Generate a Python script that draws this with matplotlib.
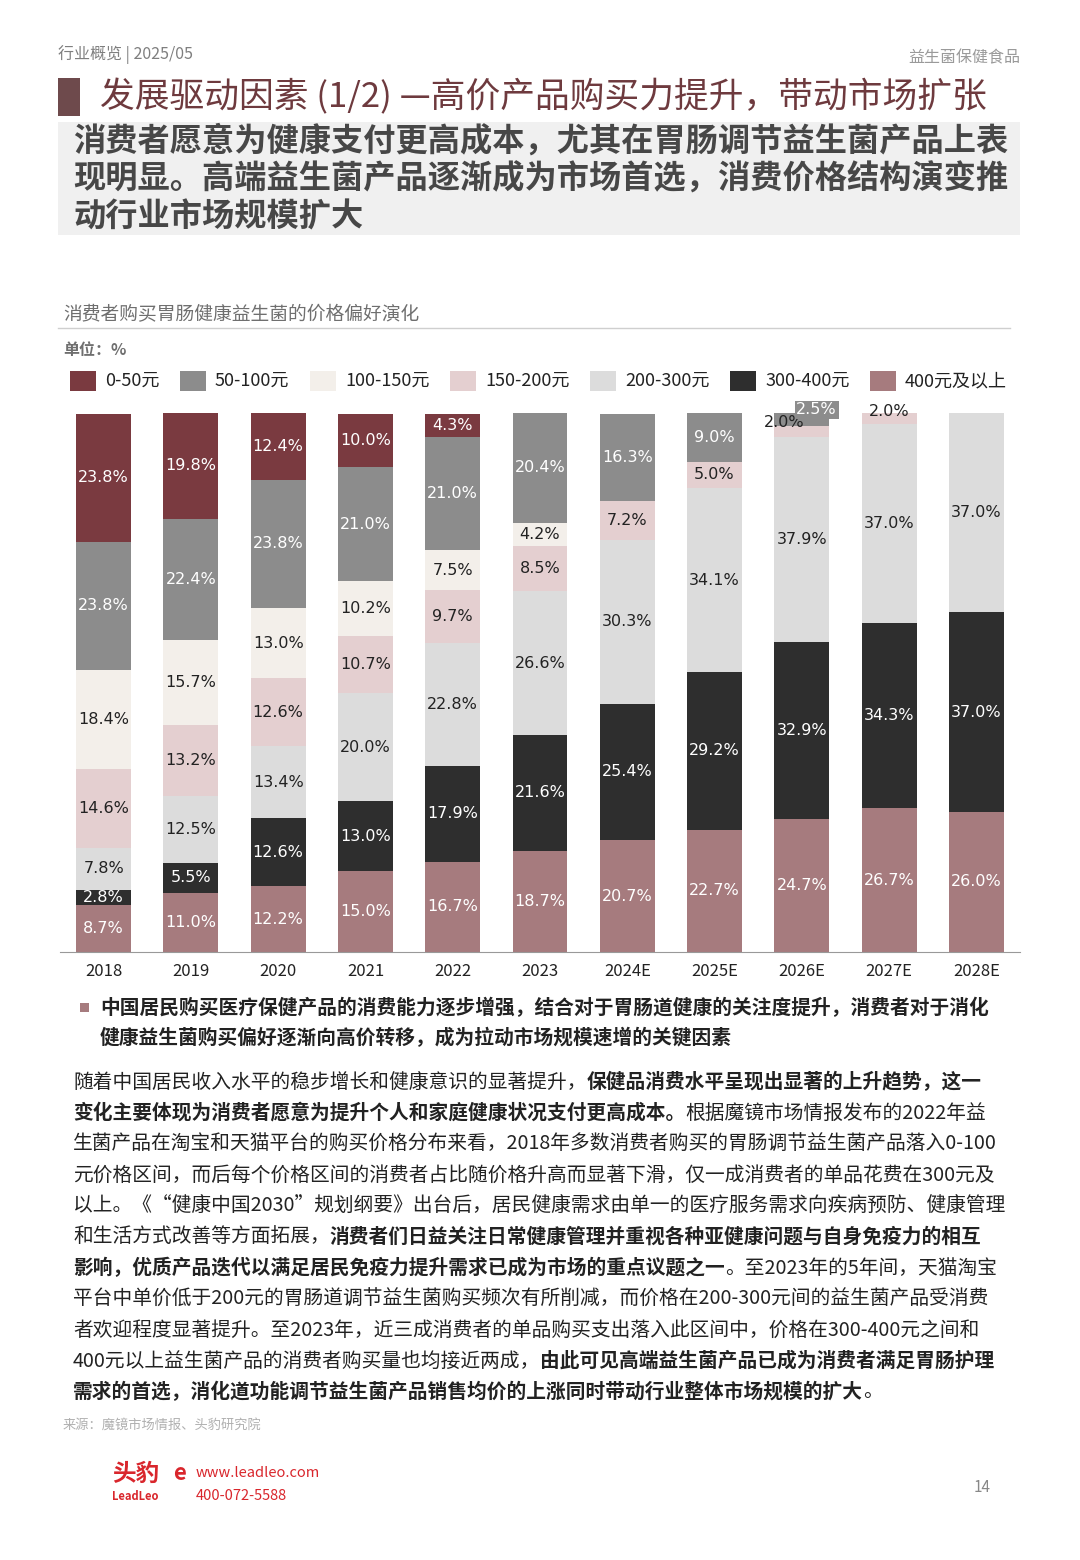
import matplotlib
matplotlib.use('Agg')
import matplotlib.pyplot as plt
from matplotlib.patches import Rectangle
import numpy as np

plt.rcParams['font.family'] = ['Noto Sans CJK SC', 'DejaVu Sans']

W, H = 1080, 1560

# data (bottom to top stacking order below)
years = ['2018', '2019', '2020', '2021', '2022', '2023', '2024E', '2025E', '2026E', '2027E', '2028E']
series_names = ['0-50元', '50-100元', '100-150元', '150-200元', '200-300元', '300-400元', '400元及以上']
p400 = [8.7, 11.0, 12.2, 15.0, 16.7, 18.7, 20.7, 22.7, 24.7, 26.7, 26.0]
p300_400 = [2.8, 5.5, 12.6, 13.0, 17.9, 21.6, 25.4, 29.2, 32.9, 34.3, 37.0]
p200_300 = [7.8, 12.5, 13.4, 20.0, 22.8, 26.6, 30.3, 34.1, 37.9, 37.0, 37.0]
p150_200 = [14.6, 13.2, 12.6, 10.7, 9.7, 8.5, 7.2, 5.0, 2.0, 2.0, 0]
p100_150 = [18.4, 15.7, 13.0, 10.2, 7.5, 4.2, 0, 0, 0, 0, 0]
p50_100 = [23.8, 22.4, 23.8, 21.0, 21.0, 20.4, 16.3, 9.0, 2.5, 0, 0]
p0_50 = [23.8, 19.8, 12.4, 10.0, 4.3, 0, 0, 0, 0, 0, 0]

colors = {'0-50元': '#7a3a40', '50-100元': '#8c8c8c', '100-150元': '#f3efea',
          '150-200元': '#e4cfd0', '200-300元': '#dcdcdc', '300-400元': '#2e2e2e',
          '400元及以上': '#a67b7e'}
dark = {'0-50元', '50-100元', '300-400元', '400元及以上'}

fig = plt.figure(figsize=(W / 100, H / 100), dpi=100)
fig.patch.set_facecolor('white')

def fx(x): return x / W
def fy(y): return 1 - y / H

def rect(x, y, w, h, c):
    fig.patches.append(Rectangle((fx(x), fy(y + h)), w / W, h / H, transform=fig.transFigure,
                                 facecolor=c, edgecolor='none'))

# header
fig.text(fx(58), fy(55), '行业概览 | 2025/05', fontsize=11.5, color='#7f7f7f', va='center', fontweight='medium')
fig.text(fx(1020), fy(58), '益生菌保健食品', fontsize=11.5, color='#9a9a9a', va='center', ha='right')
rect(58, 78, 22, 38, '#6e4a4c')
fig.text(fx(100), fy(97), '发展驱动因素 (1/2) —高价产品购买力提升，带动市场扩张', fontsize=25,
         color='#6e3a3e', va='center', fontweight='medium')
rect(58, 122, 962, 113, '#f0f0f0')
sub = ['消费者愿意为健康支付更高成本，尤其在胃肠调节益生菌产品上表',
       '现明显。高端益生菌产品逐渐成为市场首选，消费价格结构演变推',
       '动行业市场规模扩大']
for i, s in enumerate(sub):
    fig.text(fx(73), fy(141 + i * 38), s, fontsize=23.2, color='#474747', va='center', fontweight='bold')

# chart title / legend
fig.text(fx(63), fy(315), '消费者购买胃肠健康益生菌的价格偏好演化', fontsize=13.5, color='#6f6f6f', va='center')
fig.lines.append(plt.Line2D([fx(58), fx(1010)], [fy(328), fy(328)], transform=fig.transFigure,
                            color='#cfcfcf', lw=1))
fig.text(fx(63), fy(350), '单位：%', fontsize=11.5, color='#6f6f6f', va='center', fontweight='bold')
leg_x = [70, 180, 310, 450, 590, 730, 870]
for x, n in zip(leg_x, series_names):
    rect(x, 371, 26, 20, colors[n])
    fig.text(fx(x + 35), fy(381), n, fontsize=13, color='#222222', va='center')

# chart
ax = fig.add_axes([fx(60), fy(952), (1020 - 60) / W, (952 - 413) / H])
x = np.arange(len(years))
stack = [('400元及以上', p400), ('300-400元', p300_400), ('200-300元', p200_300),
         ('150-200元', p150_200), ('100-150元', p100_150), ('50-100元', p50_100), ('0-50元', p0_50)]
lab = dict(fontsize=11.5, family=['DejaVu Sans'])
bottom = np.zeros(len(years))
for name, vals in stack:
    vals = np.array(vals)
    ax.bar(x, vals, 0.63, bottom=bottom, color=colors[name], edgecolor='none')
    for i, v in enumerate(vals):
        if v <= 0:
            continue
        tc = 'white' if name in dark else '#222222'
        yy = bottom[i] + v / 2
        if v < 3:
            if years[i] == '2026E' and name == '50-100元':
                ax.text(i + 0.17, 100.6, f'{v:.1f}%', ha='center', va='center', color='white',
                        bbox=dict(boxstyle='square,pad=0.1', fc='#8c8c8c', ec='none'), **lab)
                continue
            if years[i] in ('2026E', '2027E') and name == '150-200元':
                ax.text(i - 0.2 if years[i] == '2026E' else i, 98.3 if years[i] == '2026E' else 100.2,
                        f'{v:.1f}%', ha='center', va='center', color='#222222', **lab)
                continue
        ax.text(i, yy, f'{v:.1f}%', ha='center', va='center', color=tc, **lab)
    bottom += vals
ax.set_xlim(-0.5, len(years) - 0.5)
ax.set_ylim(0, 100)
ax.set_xticks(x)
ax.set_xticklabels(years, fontsize=12, color='#222222', fontweight='medium')
ax.set_yticks([])
for s in ['left', 'right', 'top']:
    ax.spines[s].set_visible(False)
ax.spines['bottom'].set_color('#999999')
ax.tick_params(axis='x', length=0, pad=8)

# bullet
rect(80, 1003, 9, 9, '#a67b7e')
fig.text(fx(100), fy(1008), '中国居民购买医疗保健产品的消费能力逐步增强，结合对于胃肠道健康的关注度提升，消费者对于消化',
         fontsize=14.2, fontweight='bold', color='#222222', va='center')
fig.text(fx(100), fy(1038), '健康益生菌购买偏好逐渐向高价转移，成为拉动市场规模速增的关键因素',
         fontsize=14.2, fontweight='bold', color='#222222', va='center')

# body
body = [
    [('随着中国居民收入水平的稳步增长和健康意识的显著提升，', 0), ('保健品消费水平呈现出显著的上升趋势，这一', 1)],
    [('变化主要体现为消费者愿意为提升个人和家庭健康状况支付更高成本。', 1), ('根据魔镜市场情报发布的2022年益', 0)],
    [('生菌产品在淘宝和天猫平台的购买价格分布来看，2018年多数消费者购买的胃肠调节益生菌产品落入0-100', 0)],
    [('元价格区间，而后每个价格区间的消费者占比随价格升高而显著下滑，仅一成消费者的单品花费在300元及', 0)],
    [('以上。《“健康中国2030”规划纲要》出台后，居民健康需求由单一的医疗服务需求向疾病预防、健康管理', 0)],
    [('和生活方式改善等方面拓展，', 0), ('消费者们日益关注日常健康管理并重视各种亚健康问题与自身免疫力的相互', 1)],
    [('影响，优质产品迭代以满足居民免疫力提升需求已成为市场的重点议题之一', 1), ('。至2023年的5年间，天猫淘宝', 0)],
    [('平台中单价低于200元的胃肠道调节益生菌购买频次有所削减，而价格在200-300元间的益生菌产品受消费', 0)],
    [('者欢迎程度显著提升。至2023年，近三成消费者的单品购买支出落入此区间中，价格在300-400元之间和', 0)],
    [('400元以上益生菌产品的消费者购买量也均接近两成，', 0), ('由此可见高端益生菌产品已成为消费者满足胃肠护理', 1)],
    [('需求的首选，消化道功能调节益生菌产品销售均价的上涨同时带动行业整体市场规模的扩大', 1), ('。', 0)],
]
renderer = fig.canvas.get_renderer()
for li, segs in enumerate(body):
    xx = 73
    y = 1082 + li * 31
    for s, b in segs:
        t = fig.text(fx(xx), fy(y), s, fontsize=14.2, color='#222222', va='center',
                     fontweight='bold' if b else 'normal')
        xx += t.get_window_extent(renderer).width

fig.text(fx(63), fy(1425), '来源：魔镜市场情报、头豹研究院', fontsize=9.5, color='#b0b0b0', va='center')

# footer
fig.text(fx(112), fy(1474), '头豹', fontsize=17, fontweight='bold', color='#d9262c', va='center')
fig.text(fx(112), fy(1497), 'LeadLeo', fontsize=8, fontweight='bold', style='italic', color='#d9262c', va='center')
fig.text(fx(173), fy(1473), 'e', fontsize=16, fontweight='bold', style='italic', color='#d9262c', va='center')
fig.text(fx(196), fy(1473), 'www.leadleo.com', fontsize=10.5, color='#d9262c', va='center')
fig.text(fx(196), fy(1496), '400-072-5588', fontsize=10.5, color='#d9262c', va='center')
fig.text(fx(982), fy(1488), '14', fontsize=11, color='#888888', va='center', ha='center')

fig.savefig('out.png', dpi=100)
